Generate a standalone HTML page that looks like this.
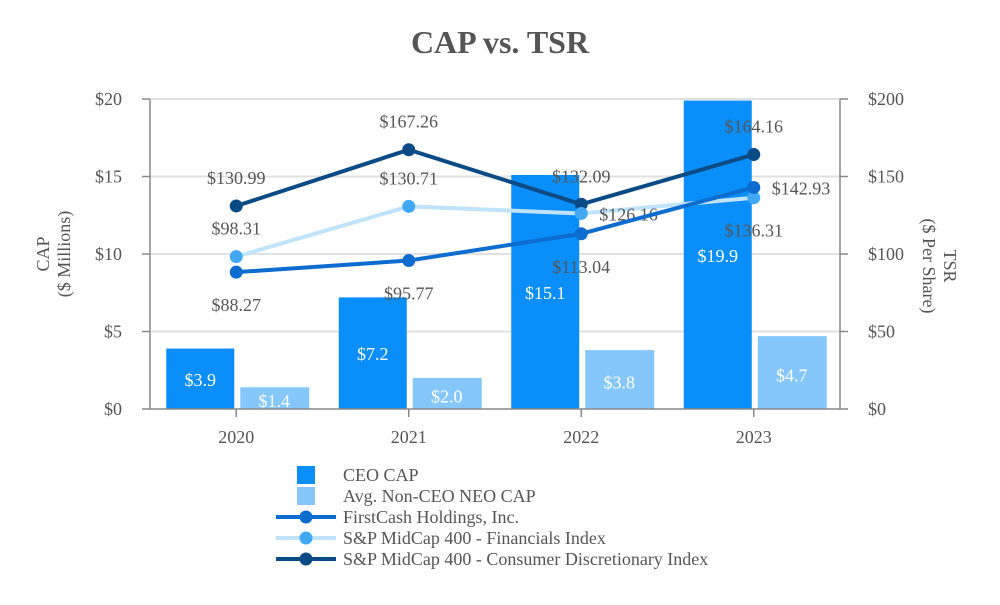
<!DOCTYPE html>
<html><head><meta charset="utf-8"><style>
body{margin:0;background:#fff;width:1000px;height:600px;overflow:hidden}
svg text{font-family:"Liberation Serif",serif;fill:#555}
</style></head><body>
<svg id="c" width="1000" height="600">
<text x="500" y="53" text-anchor="middle" font-size="32" font-weight="bold">CAP vs. TSR</text>
</svg>
<script>
const categories=["2020","2021","2022","2023"];
const ceoCap=[3.9,7.2,15.1,19.9];
const neoCap=[1.4,2.0,3.8,4.7];
const firstCash=[88.27,95.77,113.04,142.93];
const financials=[98.31,130.71,126.16,136.31];
const consumer=[130.99,167.26,132.09,164.16];
const leftTicks=[0,5,10,15,20];
const rightTicks=[0,50,100,150,200];
const fcPlace=["below","below","below","right"];
const finPlace=["above","above","right","below"];
const conPlace=["above","above","above","above"];

const svg=document.getElementById('c');
const NS="http://www.w3.org/2000/svg";
const X0=150,X1=840,Y0=409,Y1=99;
const FS=18;
const band=(X1-X0)/categories.length;
const xc=i=>X0+band*(i+0.5);
const yL=v=>Y0-(v/20)*(Y0-Y1);
const yR=v=>Y0-(v/200)*(Y0-Y1);
function mk(tag,attrs,parent){const e=document.createElementNS(NS,tag);for(const k in attrs)e.setAttribute(k,attrs[k]);(parent||svg).appendChild(e);return e;}
function txt(x,y,s,attrs){const e=mk('text',Object.assign({x:x,y:y},attrs||{}));e.textContent=s;return e;}

leftTicks.forEach((t,i)=>{
  const y=yL(t);
  if(t>0){const g=mk('line',{x1:X0,x2:X1,y1:y,y2:y,stroke:'#e0e0e0','stroke-width':2});
  
  }
  const l=txt(X0-28,y+6,'$'+t,{'text-anchor':'end','font-size':FS});
  
  
  mk('line',{x1:X0-8,x2:X0,y1:y,y2:y,stroke:'#888','stroke-width':1.5});
});
rightTicks.forEach(t=>{
  const y=yR(t);
  const l=txt(X1+28,y+6,'$'+t,{'font-size':FS});
  
  
  mk('line',{x1:X1,x2:X1+8,y1:y,y2:y,stroke:'#888','stroke-width':1.5});
});
mk('line',{x1:X0,x2:X0,y1:Y1,y2:Y0,stroke:'#888','stroke-width':1.5});
mk('line',{x1:X1,x2:X1,y1:Y1,y2:Y0,stroke:'#888','stroke-width':1.5});

categories.forEach((c,i)=>{
  const cx=xc(i);
  const b1=mk('rect',{x:cx-70,y:yL(ceoCap[i]),width:68,height:Y0-yL(ceoCap[i]),fill:'#0a8ef9'});
  
  
  const b2=mk('rect',{x:cx+4,y:yL(neoCap[i]),width:69,height:Y0-yL(neoCap[i]),fill:'#85c7fb'});
  
  
  const t1=txt(cx-36,(yL(ceoCap[i])+Y0)/2+7,'$'+ceoCap[i].toFixed(1),{'text-anchor':'middle','font-size':FS,style:'fill:#fff'});
  
  
  const t2=txt(cx+38,(yL(neoCap[i])+Y0)/2+9,'$'+neoCap[i].toFixed(1),{'text-anchor':'middle','font-size':FS,style:'fill:#fff'});
  
  
  const xl=txt(cx,443,c,{'text-anchor':'middle','font-size':FS});
  
  
  mk('line',{x1:cx,x2:cx,y1:Y0,y2:Y0+8,stroke:'#888','stroke-width':1.5});
});
mk('line',{x1:X0,x2:X1,y1:Y0,y2:Y0,stroke:'#888','stroke-width':1.5});

function series(vals,place,line,marker,name){
  const pts=vals.map((v,i)=>xc(i)+','+yR(v)).join(' ');
  const pl=mk('polyline',{points:pts,fill:'none',stroke:line,'stroke-width':4});
  
  
  vals.forEach((v,i)=>{
    const x=xc(i),y=yR(v);
    const p=mk('circle',{cx:x,cy:y,r:6.5,fill:marker});
    
    
    let lx=x,ly=y,anc='middle';
    if(place[i]==='above')ly=y-22;
    else if(place[i]==='below')ly=y+39;
    else {lx=x+18;ly=y+7;anc='start';}
    const t=txt(lx,ly,'$'+v.toFixed(2),{'text-anchor':anc,'font-size':FS});
    
    
  });
}
series(consumer,conPlace,'#0a4a85','#0a4a85','consumer-index');
series(financials,finPlace,'#bfe3fb','#40a8f5','financials-index');
series(firstCash,fcPlace,'#0d6cd0','#0d6cd0','firstcash');

const la=txt(0,0,'',{'text-anchor':'middle','font-size':FS,transform:'translate(53,254) rotate(-90)'});
la.innerHTML='<tspan x="0" dy="-4">CAP</tspan><tspan x="0" dy="21">($ Millions)</tspan>';


const ra=txt(0,0,'',{'text-anchor':'middle','font-size':FS,transform:'translate(944,266) rotate(90)'});
ra.innerHTML='<tspan x="0" dy="0">TSR</tspan><tspan x="0" dy="21">($ Per Share)</tspan>';



const legend=[['rect','#0a8ef9','CEO CAP'],['rect','#85c7fb','Avg. Non-CEO NEO CAP'],['line','#0d6cd0','FirstCash Holdings, Inc.','#0d6cd0'],['line','#bfe3fb','S&P MidCap 400 - Financials Index','#40a8f5'],['line','#0a4a85','S&P MidCap 400 - Consumer Discretionary Index','#0a4a85']];
legend.forEach((l,i)=>{
  const y=475+i*21;
  const g=mk('g',{});
  
  
  if(l[0]==='rect')mk('rect',{x:297,y:y-9,width:18,height:18,fill:l[1]},g);
  else{mk('line',{x1:276,x2:336,y1:y,y2:y,stroke:l[1],'stroke-width':4},g);mk('circle',{cx:306,cy:y,r:6.5,fill:l[3]},g);}
  const t=txt(343,y+6,l[2],{'font-size':FS});g.appendChild(t);
});
</script>
</body></html>
